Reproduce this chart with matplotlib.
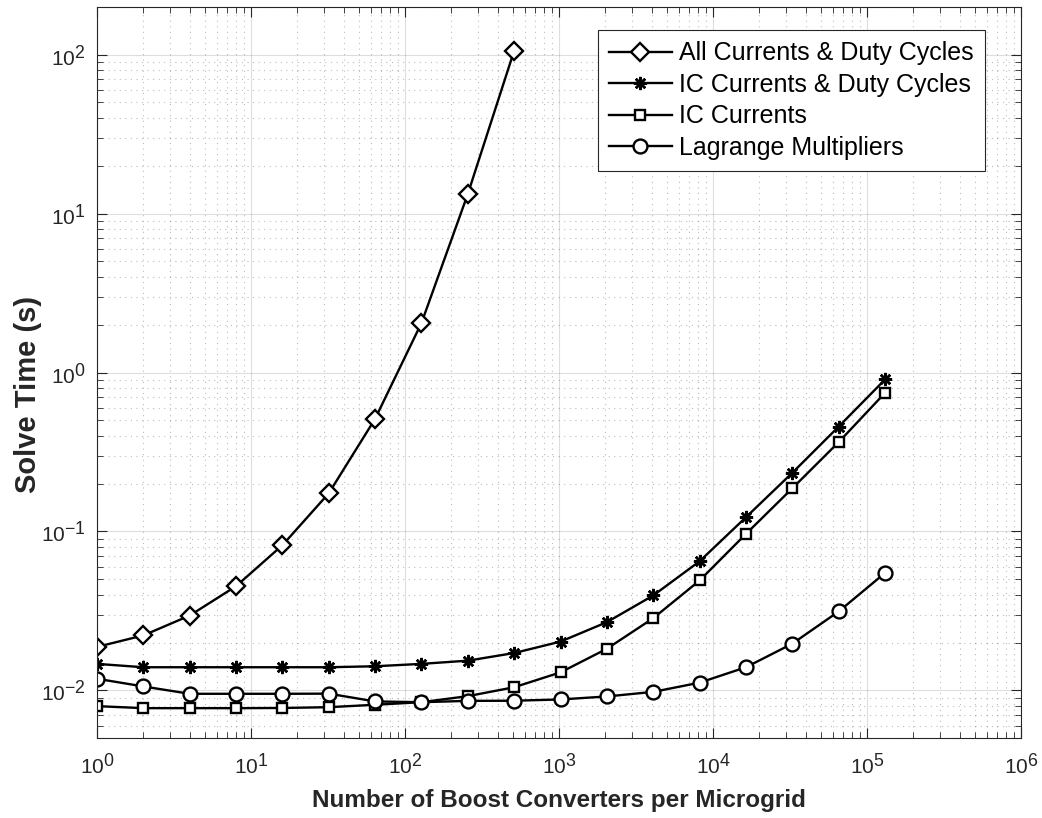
import matplotlib
matplotlib.use("Agg")
import matplotlib.pyplot as plt
import numpy as np
try:
    import matplotlib._mathtext as _mt
    _mt.SHRINK_FACTOR = 0.85
except Exception:
    pass

plt.rcParams['font.family'] = ['Liberation Sans', 'DejaVu Sans']
plt.rcParams['mathtext.fontset'] = 'custom'
plt.rcParams['mathtext.rm'] = 'Liberation Sans'
plt.rcParams['mathtext.default'] = 'regular'

n_conv = [1, 2, 4, 8, 16, 32, 64, 128, 256, 512, 1024, 2048, 4096, 8192,
          16384, 32768, 65536, 131072]

all_cur_duty = [0.0188, 0.0222, 0.0296, 0.0453, 0.082, 0.174, 0.512, 2.05, 13.3, 106]
ic_cur_duty = [0.0147, 0.0140, 0.0140, 0.0140, 0.0140, 0.0140, 0.0142, 0.0147, 0.0154,
               0.0172, 0.0203, 0.0269, 0.0396, 0.065, 0.123, 0.234, 0.457, 0.904]
ic_cur = [0.00797, 0.00774, 0.00774, 0.00774, 0.00776, 0.00785, 0.00813, 0.00844, 0.00921,
          0.01048, 0.0130, 0.0183, 0.0285, 0.0492, 0.0966, 0.187, 0.365, 0.745]
lagrange = [0.01185, 0.0106, 0.00953, 0.00953, 0.00953, 0.00955, 0.00853, 0.00844, 0.0086,
            0.00862, 0.00878, 0.00917, 0.0098, 0.0112, 0.0140, 0.0197, 0.0314, 0.0549]

labels = ['All Currents & Duty Cycles', 'IC Currents & Duty Cycles',
          'IC Currents', 'Lagrange Multipliers']

x_exponents = [0, 1, 2, 3, 4, 5, 6]
y_exponents = [-2, -1, 0, 1, 2]
x_ticklabels = ['$10^{%d}$' % e for e in x_exponents]
y_ticklabels = ['$10^{%d}$' % e for e in y_exponents]

fig = plt.figure(figsize=(10.42, 8.18), dpi=100)
ax = fig.add_axes([0.0931, 0.0974, 0.8867, 0.8944])

lw = 1.7
ax.plot(n_conv[:len(all_cur_duty)], all_cur_duty, '-', color='k', lw=lw, marker='D',
        ms=9.5, mfc='white', mew=1.7, label=labels[0])
ax.plot(n_conv, ic_cur_duty, '-', color='k', lw=lw, marker=(8, 2, 0),
        ms=9.5, mew=1.8, label=labels[1])
ax.plot(n_conv, ic_cur, '-', color='k', lw=lw, marker='s',
        ms=7, mfc='white', mew=1.7, label=labels[2])
ax.plot(n_conv, lagrange, '-', color='k', lw=lw, marker='o',
        ms=10, mfc='white', mew=1.7, label=labels[3])

ax.set_xscale('log')
ax.set_yscale('log')
ax.set_xlim(1, 1e6)
ax.set_ylim(0.005, 200)

ax.set_xticks([10.0 ** e for e in x_exponents])
ax.set_xticklabels(x_ticklabels)
ax.set_yticks([10.0 ** e for e in y_exponents])
ax.set_yticklabels(y_ticklabels)
ax.xaxis.set_minor_locator(matplotlib.ticker.LogLocator(base=10, subs=np.arange(2, 10), numticks=100))
ax.yaxis.set_minor_locator(matplotlib.ticker.LogLocator(base=10, subs=np.arange(2, 10), numticks=100))
ax.xaxis.set_minor_formatter(matplotlib.ticker.NullFormatter())
ax.yaxis.set_minor_formatter(matplotlib.ticker.NullFormatter())

ax.grid(True, which='major', color='#262626', alpha=0.15, lw=0.8, ls='-')
ax.grid(True, which='minor', color='#262626', alpha=0.3, lw=0.8, ls=(0, (1, 4)))
ax.set_axisbelow(True)

ax.tick_params(which='both', direction='in', top=True, right=True, colors='#262626',
               labelcolor='#262626')
ax.tick_params(which='major', length=7, width=0.8, labelsize=15)
ax.tick_params(axis='x', which='major', pad=10)
ax.tick_params(axis='y', which='major', pad=8)
ax.tick_params(which='minor', length=4, width=0.6)
for s in ax.spines.values():
    s.set_color('#262626')
    s.set_linewidth(0.8)

ax.set_xlabel('Number of Boost Converters per Microgrid', fontsize=17.5, fontweight='bold',
              color='#262626', labelpad=8)
ax.set_ylabel('Solve Time (s)', fontsize=21, fontweight='bold', color='#262626')
ax.yaxis.set_label_coords(-0.0595, 0.47)

leg = ax.legend(loc='upper right', bbox_to_anchor=(0.961, 0.968), borderaxespad=0,
                fontsize=18, frameon=True, fancybox=False,
                edgecolor='#262626', framealpha=1, handlelength=2.5,
                labelspacing=0.3, handletextpad=0.3, borderpad=0.45)
leg.get_frame().set_linewidth(0.8)

fig.savefig('out.png', dpi=100)
